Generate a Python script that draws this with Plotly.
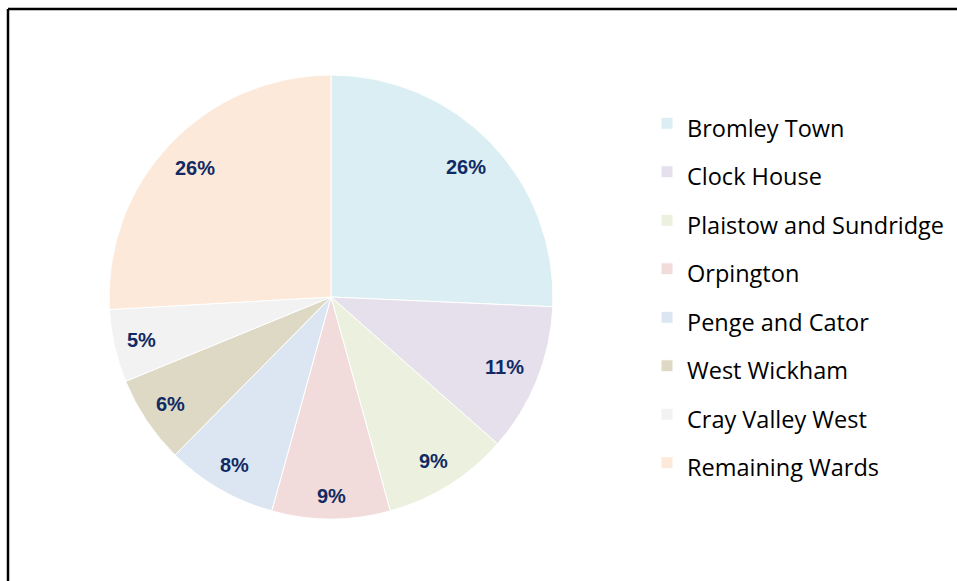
import math
import plotly.graph_objects as go

wards = [
    "Bromley Town",
    "Clock House",
    "Plaistow and Sundridge",
    "Orpington",
    "Penge and Cator",
    "West Wickham",
    "Cray Valley West",
    "Remaining Wards",
]
share = [25.7, 10.8, 9.2, 8.6, 8.1, 6.4, 5.3, 25.9]
colours = [
    "#DAEEF3",
    "#E5E0EC",
    "#EBF1DE",
    "#F2DCDB",
    "#DCE6F2",
    "#DDD9C4",
    "#F2F2F2",
    "#FDE9D9",
]

W, H = 957, 581
cx, cy, r = 331, 297, 222

fig = go.Figure(
    go.Pie(
        labels=["<span style='font-size:23.5px'>%s</span>" % w for w in wards],
        values=share,
        sort=False,
        direction="clockwise",
        rotation=0,
        marker=dict(colors=colours, line=dict(color="white", width=1)),
        textinfo="none",
        domain=dict(
            x=[(cx - r) / W, (cx + r) / W],
            y=[(H - cy - r) / H, (H - cy + r) / H],
        ),
        hoverinfo="label+percent",
    )
)

# percentage labels placed near the outer edge of each slice (inside end)
total = sum(share)
annotations = []
cum = 0
for v in share:
    mid = (cum + v / 2) / total * 2 * math.pi
    cum += v
    txt = "%d%%" % math.floor(v / total * 100 + 0.5)
    half_w = 7 * len(txt)
    half_h = 12
    ext = abs(math.sin(mid)) * half_w + abs(math.cos(mid)) * half_h
    dist = r - 11 - ext
    px_ = cx + dist * math.sin(mid)
    py_ = cy - dist * math.cos(mid)
    annotations.append(
        dict(
            x=px_ / W,
            y=1 - py_ / H,
            xref="paper",
            yref="paper",
            xanchor="center",
            yanchor="middle",
            text="<b>%s</b>" % txt,
            showarrow=False,
            font=dict(family="Liberation Sans", size=20, color="#112A63"),
        )
    )

fig.update_layout(
    width=W,
    height=H,
    margin=dict(l=0, r=0, t=0, b=0),
    paper_bgcolor="white",
    font=dict(family="Open Sans", color="black"),
    annotations=annotations,
    legend=dict(
        x=647 / W,
        y=1 - 94 / H,
        xanchor="left",
        yanchor="top",
        font=dict(size=35, family="Open Sans", color="black"),
        itemclick=False,
    ),
    shapes=[
        # chart frame: only the top and left edges fall inside the window
        dict(type="line", xref="paper", yref="paper",
             x0=8 / W, x1=1.05, y0=1 - 9 / H, y1=1 - 9 / H,
             line=dict(color="black", width=2.5)),
        dict(type="line", xref="paper", yref="paper",
             x0=8 / W, x1=8 / W, y0=-0.05, y1=1 - 9 / H,
             line=dict(color="black", width=2.5)),
    ],
)

# drop the default page margin so the figure fills the window exactly
fig.write_html(
    "out.html",
    config={"displayModeBar": False},
    post_script="document.body.style.margin='0';document.body.style.overflow='hidden';",
)
